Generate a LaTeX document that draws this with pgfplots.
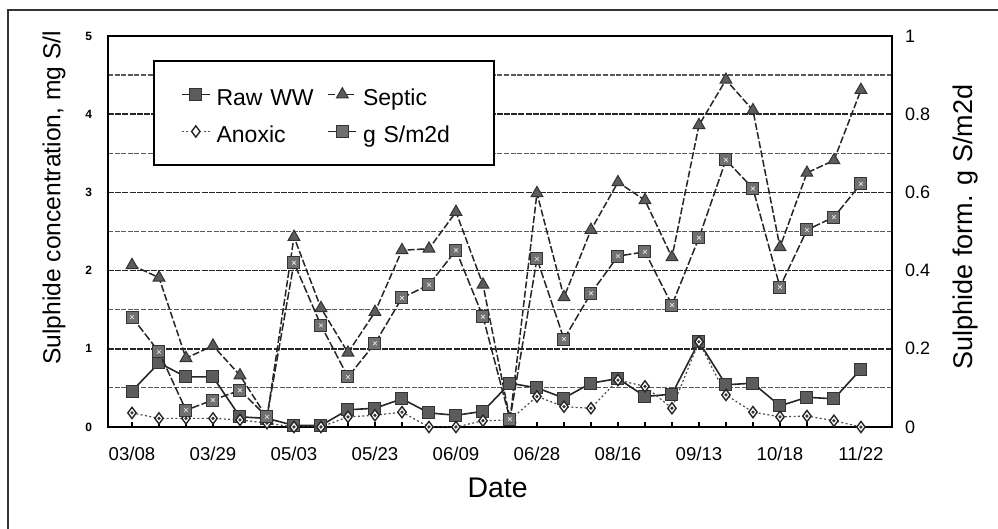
\documentclass[border=0pt]{standalone}
\usepackage{fontspec}
\setmainfont{Liberation Sans}
\usepackage{pgfplots}
\pgfplotsset{compat=1.18}
\definecolor{mk}{HTML}{5C5C5C}
\definecolor{mk2}{HTML}{707070}

\pgfplotstableread{
i raw septic anoxic
0 0.46 2.07 0.18
1 0.82 1.91 0.11
2 0.64 0.88 0.11
3 0.64 1.04 0.11
4 0.13 0.66 0.09
5 0.11 0.12 0.05
6 0.02 2.43 0.00
7 0.02 1.52 0.00
8 0.22 0.95 0.13
9 0.24 1.47 0.15
10 0.36 2.26 0.19
11 0.18 2.28 0.00
12 0.15 2.75 0.00
13 0.20 1.82 0.08
14 0.56 0.10 0.09
15 0.50 2.99 0.39
16 0.37 1.66 0.26
17 0.56 2.52 0.24
18 0.62 3.13 0.60
19 0.39 2.90 0.52
20 0.42 2.17 0.24
21 1.09 3.86 1.09
22 0.54 4.44 0.41
23 0.56 4.05 0.19
24 0.27 2.30 0.13
25 0.38 3.25 0.14
26 0.36 3.41 0.08
27 0.74 4.31 0.00
}\conc

\pgfplotstableread{
i gs
0 0.281
1 0.192
2 0.043
3 0.069
4 0.094
5 0.026
6 0.420
7 0.260
8 0.128
9 0.214
10 0.330
11 0.364
12 0.452
13 0.282
14 0.020
15 0.430
16 0.225
17 0.342
18 0.437
19 0.448
20 0.312
21 0.484
22 0.683
23 0.610
24 0.358
25 0.504
26 0.537
27 0.622
}\form

\begin{document}
\begin{tikzpicture}
\pgfplotsset{
  common/.style={
    at={(0,0)}, anchor=south west,
    scale only axis, width=392pt, height=195.5pt,
    xmin=-0.889, xmax=28.15,
    axis line style={black, line width=1pt},
    /pgf/number format/assume math mode=true,
  },
  rawstyle/.style={black!85, line width=0.8pt, mark=square*, mark size=3pt,
    mark options={solid, fill=mk, draw=black!80, line width=0.5pt}},
  septicstyle/.style={black!85, line width=0.75pt, dash pattern=on 3.5pt off 1.2pt, mark=triangle*, mark size=3.4pt,
    mark options={solid, fill=mk, draw=black!80, line width=0.5pt}},
  anoxicstyle/.style={black!70, line width=0.6pt, dash pattern=on 1pt off 1.2pt, mark=diamond*, mark size=2.8pt,
    mark options={solid, fill=white, draw=black!85, line width=0.7pt}},
}
\begin{axis}[common,
  ymin=0, ymax=5,
  xtick={0,3,...,27},
  xticklabels={03/08,03/29,05/03,05/23,06/09,06/28,08/16,09/13,10/18,11/22},
  minor xtick={0,...,27},
  xtick pos=bottom, ytick pos=left,
  tick align=inside,
  major tick length=2.5pt, minor tick length=2.5pt,
  xtick style={black, line width=0.7pt},
  minor x tick style={black, line width=0.7pt},
  ytick={0,...,5}, minor ytick={0.5,1.5,...,4.5},
  ytick style={draw=none}, minor y tick style={draw=none},
  ymajorgrids, yminorgrids,
  major grid style={dash pattern=on 3pt off 0.6pt, black!85, line width=0.75pt},
  minor grid style={dash pattern=on 2.5pt off 0.8pt, black!65, line width=0.6pt},
  x tick label style={font=\fontsize{9.3}{10}\selectfont, anchor=base, yshift=-17pt},
  y tick label style={font=\bfseries\fontsize{6}{7}\selectfont, anchor=east, xshift=-4.5pt},
  xlabel={Date},
  xlabel style={font=\fontsize{14.2}{16}\selectfont, at={(axis description cs:0.497,-0.1816)}, anchor=base},
  ylabel={Sulphide concentration, mg S/l},
  every axis y label/.style={at={(axis description cs:-0.069,0.586)}, rotate=90, anchor=center, font=\fontsize{12.3}{14}\selectfont},
]
\addplot[rawstyle] table[x=i, y=raw] {\conc};
\addplot[septicstyle] table[x=i, y=septic] {\conc};
\addplot[anoxicstyle] table[x=i, y=anoxic] {\conc};
\addplot[only marks, mark=*, mark size=0.6pt, mark options={black!80}] table[x=i, y=anoxic] {\conc};
\end{axis}

\begin{axis}[common,
  ymin=0, ymax=1,
  axis y line*=right, axis x line=none,
  ytick={0,0.2,0.4,0.6,0.8,1},
  yticklabels={0,0.2,0.4,0.6,0.8,1},
  ytick style={draw=none},
  y tick label style={font=\fontsize{9}{10}\selectfont, anchor=west, xshift=3pt},
  ylabel={Sulphide form. g S/m2d},
  every axis y label/.style={at={(axis description cs:1.094,0.511)}, rotate=90, anchor=center, font=\fontsize{13.5}{15}\selectfont},
  legend columns=2,
  legend cell align=left,
  legend style={at={(axis description cs:0.0574,0.9386)}, anchor=north west,
    draw=black, line width=1pt, fill=white,
    font=\fontsize{11.5}{13}\selectfont,
    nodes={text width=50pt, align=left, inner xsep=2pt, inner ysep=2pt, text height=12.5pt, text depth=2pt},
    row sep=0pt, column sep=1pt,
    /tikz/every even column/.append style={column sep=3.5pt},
    inner xsep=13.5pt, inner ysep=7.5pt},
  legend image code/.code={\draw[mark repeat=2,mark phase=2,#1] plot coordinates {(0pt,0pt) (7pt,0pt) (14pt,0pt)};},
]
\addlegendimage{rawstyle}
\addlegendentry{Raw WW}
\addlegendimage{septicstyle}
\addlegendentry{Septic}
\addlegendimage{anoxicstyle}
\addlegendentry{Anoxic}
\addplot[black!85, line width=0.75pt, dash pattern=on 4pt off 1.2pt, mark=square*, mark size=3pt,
  mark options={solid, fill=mk2, draw=black!80, line width=0.5pt}]
  table[x=i, y=gs] {\form};
\addlegendentry{g S/m2d}
\addplot[forget plot, only marks, mark=x, mark size=1.3pt, mark options={white!85!black, line width=0.4pt}]
  table[x=i, y=gs] {\form};
\end{axis}

\draw[black!80, line width=0.8pt] (-50pt,-70pt) -- (-50pt,208.5pt) -- (470pt,208.5pt);
\pgfresetboundingbox
\useasboundingbox (-54pt,-51pt) rectangle (445pt,213.5pt);
\end{tikzpicture}
\end{document}
